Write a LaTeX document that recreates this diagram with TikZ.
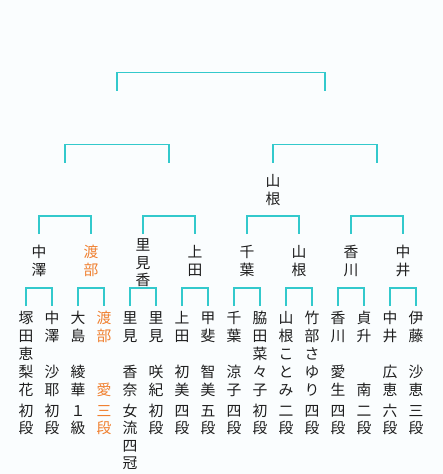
\documentclass[tikz,border=0pt]{standalone}
\usepackage{fontspec}
\newfontfamily\cjk{Noto Sans CJK JP}
\definecolor{bgc}{RGB}{250,253,254}
\definecolor{linec}{RGB}{51,201,204}
\definecolor{orangec}{RGB}{240,128,48}
\definecolor{textc}{RGB}{30,30,30}
\newcommand\vstk[1]{\vtop{\baselineskip=18pt\lineskiplimit=-20pt\lineskip=0pt\halign{\hfil##\hfil\cr#1\crcr}}}
\newcommand\vstq[1]{\vtop{\baselineskip=17.5pt\lineskiplimit=-20pt\lineskip=0pt\halign{\hfil##\hfil\cr#1\crcr}}}
\tikzset{
  vname/.style={anchor=base, inner sep=0pt, font=\cjk\fontsize{14.8}{18}\selectfont, text=textc},
  hl/.style={text=orangec},
  brk/.style={draw=linec, line width=1.2pt}
}
\begin{document}
\begin{tikzpicture}[x=1pt,y=-1pt]
\fill[bgc] (0,0) rectangle (443,474);
\useasboundingbox (0,0) rectangle (443,474);
% leaves: names
\node[vname] (l1) at (26,323) {\vstk{塚\cr 田\cr 恵\cr 梨\cr 花}};
\node[vname] (l2) at (52,323) {\vstk{中\cr 澤\cr \cr 沙\cr 耶}};
\node[vname] (l3) at (78,323) {\vstk{大\cr 島\cr \cr 綾\cr 華}};
\node[vname,hl] (l4) at (104,323) {\vstk{渡\cr 部\cr \cr \cr 愛}};
\node[vname] (l5) at (130,323) {\vstk{里\cr 見\cr \cr 香\cr 奈}};
\node[vname] (l6) at (156,323) {\vstk{里\cr 見\cr \cr 咲\cr 紀}};
\node[vname] (l7) at (182,323) {\vstk{上\cr 田\cr \cr 初\cr 美}};
\node[vname] (l8) at (208,323) {\vstk{甲\cr 斐\cr \cr 智\cr 美}};
\node[vname] (l9) at (234,323) {\vstk{千\cr 葉\cr \cr 涼\cr 子}};
\node[vname] (l10) at (260,323) {\vstk{脇\cr 田\cr 菜\cr 々\cr 子}};
\node[vname] (l11) at (286,323) {\vstk{山\cr 根\cr こ\cr と\cr み}};
\node[vname] (l12) at (312,323) {\vstk{竹\cr 部\cr さ\cr ゆ\cr り}};
\node[vname] (l13) at (338,323) {\vstk{香\cr 川\cr \cr 愛\cr 生}};
\node[vname] (l14) at (364,323) {\vstk{貞\cr 升\cr \cr \cr 南}};
\node[vname] (l15) at (390,323) {\vstk{中\cr 井\cr \cr 広\cr 恵}};
\node[vname] (l16) at (416,323) {\vstk{伊\cr 藤\cr \cr 沙\cr 恵}};
% leaves: ranks
\node[vname] (r1) at (26,416.4) {\vstq{初\cr 段}};
\node[vname] (r2) at (52,416.4) {\vstq{初\cr 段}};
\node[vname] (r3) at (78,416.4) {\vstq{１\cr 級}};
\node[vname,hl] (r4) at (104,416.4) {\vstq{三\cr 段}};
\node[vname] (r5) at (130,416.4) {\vstq{女\cr 流\cr 四\cr 冠}};
\node[vname] (r6) at (156,416.4) {\vstq{初\cr 段}};
\node[vname] (r7) at (182,416.4) {\vstq{四\cr 段}};
\node[vname] (r8) at (208,416.4) {\vstq{五\cr 段}};
\node[vname] (r9) at (234,416.4) {\vstq{四\cr 段}};
\node[vname] (r10) at (260,416.4) {\vstq{初\cr 段}};
\node[vname] (r11) at (286,416.4) {\vstq{二\cr 段}};
\node[vname] (r12) at (312,416.4) {\vstq{四\cr 段}};
\node[vname] (r13) at (338,416.4) {\vstq{四\cr 段}};
\node[vname] (r14) at (364,416.4) {\vstq{二\cr 段}};
\node[vname] (r15) at (390,416.4) {\vstq{六\cr 段}};
\node[vname] (r16) at (416,416.4) {\vstq{三\cr 段}};
% quarter-final winners
\node[vname] (q1) at (39,257.7) {\vstk{中\cr 澤}};
\node[vname,hl] (q2) at (91,257.7) {\vstk{渡\cr 部}};
\node[vname] (q3) at (143,250.7) {\vstq{里\cr 見\cr 香}};
\node[vname] (q4) at (195,257.7) {\vstk{上\cr 田}};
\node[vname] (q5) at (247,257.7) {\vstk{千\cr 葉}};
\node[vname] (q6) at (299,257.7) {\vstk{山\cr 根}};
\node[vname] (q7) at (351,257.7) {\vstk{香\cr 川}};
\node[vname] (q8) at (403,257.7) {\vstk{中\cr 井}};
% semi-final winner
\node[vname] (s2) at (273,186.4) {\vstk{山\cr 根}};
% brackets
\foreach \i/\a/\b in {1/26/52,2/78/104,3/130/156,4/182/208,5/234/260,6/286/312,7/338/364,8/390/416}{
  \coordinate (ma\i) at (\a,306);
  \coordinate (mb\i) at (\b,306);
  \coordinate (mt\i) at (\a,288);
  \draw[brk] (ma\i) -- (mt\i) -| (mb\i);
}
\foreach \i/\a/\b in {1/39/91,2/143/195,3/247/299,4/351/403}{
  \coordinate (qa\i) at (\a,234);
  \coordinate (qb\i) at (\b,234);
  \coordinate (qt\i) at (\a,216);
  \draw[brk] (qa\i) -- (qt\i) -| (qb\i);
}
\foreach \i/\a/\b in {1/65/169,2/273/377}{
  \coordinate (sa\i) at (\a,162.7);
  \coordinate (sb\i) at (\b,162.7);
  \coordinate (st\i) at (\a,144.3);
  \draw[brk] (sa\i) -- (st\i) -| (sb\i);
}
\coordinate (fa) at (117,90.7);
\coordinate (fb) at (325,90.7);
\coordinate (ft) at (117,72.3);
\draw[brk] (fa) -- (ft) -| (fb);
\end{tikzpicture}
\end{document}
